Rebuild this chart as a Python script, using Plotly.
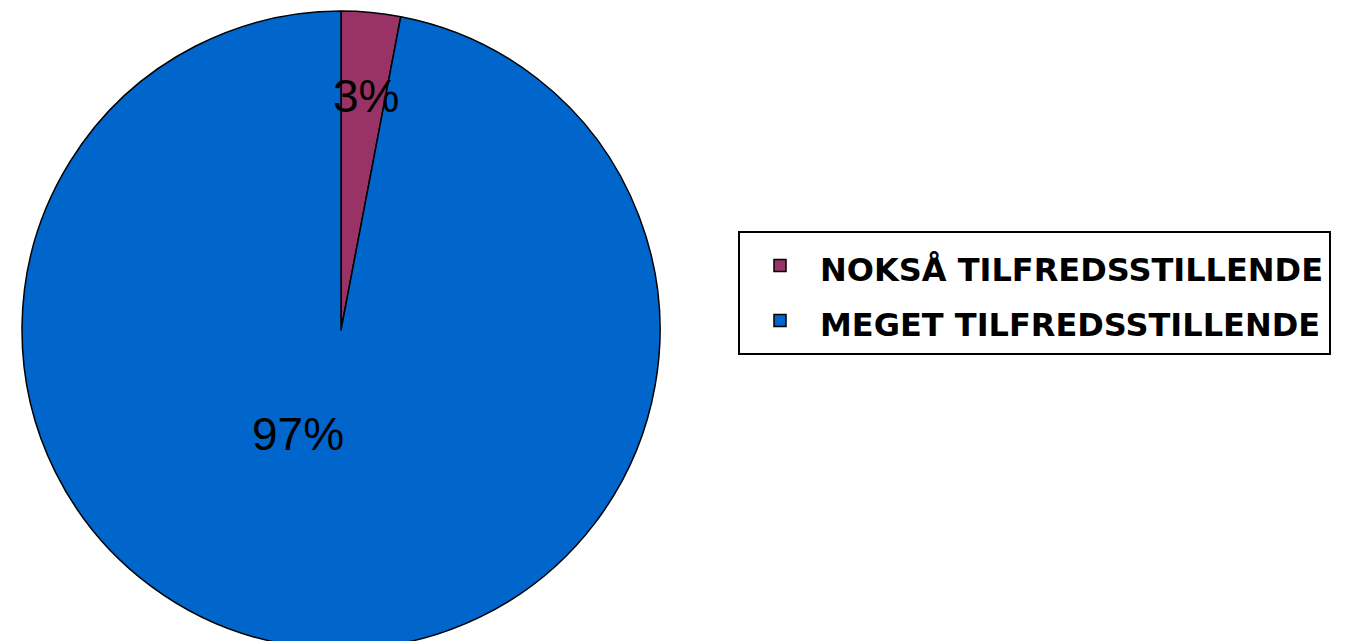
import math
import plotly.graph_objects as go

# Data
labels = ["NOKSÅ TILFREDSSTILLENDE", "MEGET TILFREDSSTILLENDE"]
values = [3, 97]
colors = ["#993366", "#0066CC"]

W, H = 1351, 641
OFF = 8  # default body margin of the written html page

# pie placement in screen pixels (center and radius)
cx, cy, r = 341, 330, 319
fx, fy = cx - OFF, cy - OFF  # same in figure pixels

# legend entries: smaller text inside a taller legend line for row spacing
legend_labels = [f"<span style='font-size:32px'>{t}</span>" for t in labels]

fig = go.Figure(
    go.Pie(
        labels=legend_labels,
        values=values,
        sort=False,
        direction="clockwise",
        rotation=0,
        textinfo="none",
        hovertext=labels,
        hoverinfo="text+percent",
        marker=dict(colors=colors, line=dict(color="black", width=1.5)),
        domain=dict(
            x=[(fx - r) / W, (fx + r) / W],
            y=[max(0, 1 - (fy + r) / H), min(1, 1 - (fy - r) / H)],
        ),
    )
)

# percentage labels, placed along each slice's bisector
total = sum(values)
label_pos = [(0.737, 0.7), (0.353, 17.1)]  # (radius fraction, angle offset in degrees)
start = 0.0
for v, (rf, off) in zip(values, label_pos):
    frac = v / total
    mid = (start + frac / 2) * 360 + off
    start += frac
    px = fx + rf * r * math.sin(math.radians(mid))
    py = fy - rf * r * math.cos(math.radians(mid))
    fig.add_annotation(
        x=px / W, y=1 - py / H, xref="paper", yref="paper",
        text=f"{round(frac * 100)}%", showarrow=False,
        font=dict(family="Liberation Sans, Arial, sans-serif", size=46, color="black"),
        xanchor="center", yanchor="middle",
    )

fig.update_layout(
    width=W,
    height=H,
    margin=dict(l=0, r=0, t=0, b=0),
    paper_bgcolor="white",
    plot_bgcolor="white",
    showlegend=True,
    legend=dict(
        x=(738 - OFF) / W, y=1 - (231 - OFF) / H, xanchor="left", yanchor="top",
        bgcolor="white", bordercolor="black", borderwidth=2,
        font=dict(family="DejaVu Sans, sans-serif", size=40, color="black", weight="bold"),
        itemwidth=70,
    ),
)

fig.write_html("out.html")
